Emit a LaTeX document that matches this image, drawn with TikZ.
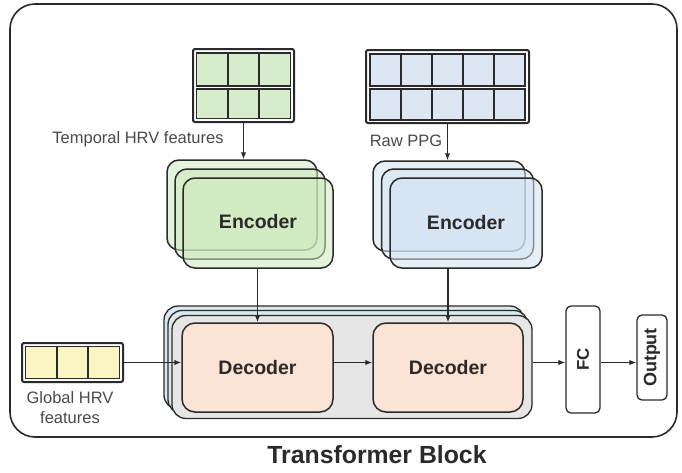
\documentclass[tikz,border=0pt]{standalone}
\usepackage{fontspec}
\setmainfont{Liberation Sans}
\usetikzlibrary{arrows.meta}
\definecolor{inkc}{HTML}{2A2A2A}
\definecolor{labelc}{HTML}{4A4A4A}
\definecolor{gridgreen}{HTML}{D6ECCA}
\definecolor{encgreen}{HTML}{CDE9BD}
\definecolor{gridblue}{HTML}{DCE7F3}
\definecolor{encblue}{HTML}{D3E2F1}
\definecolor{peach}{HTML}{FBE3D5}
\definecolor{paleyellow}{HTML}{FAF5C3}
\definecolor{stackblue}{HTML}{DCE8EE}
\definecolor{stackgray}{HTML}{E6E6E6}
\tikzset{
  frame/.style={draw=inkc, line width=1.6pt, rounded corners=25pt},
  gridframe/.style={draw=inkc, line width=2pt, rounded corners=2pt, fill=white, inner sep=0pt},
  gridrow/.style={draw=inkc, line width=1.3pt},
  encbox/.style={draw=inkc, line width=1.5pt, rounded corners=12pt,
    minimum width=150pt, minimum height=90pt, inner sep=0pt,
    fill opacity=0.55, text opacity=1},
  stackbox/.style={draw=inkc, line width=1.3pt, rounded corners=14pt,
    minimum width=360pt, minimum height=103pt, inner sep=0pt},
  decbox/.style={draw=inkc, line width=1.5pt, rounded corners=13pt, fill=peach,
    minimum height=89pt, inner sep=0pt},
  smallbox/.style={draw=inkc, line width=1.3pt, rounded corners=5pt, fill=white, inner sep=0pt},
  boldlbl/.style={text=inkc, font=\fontsize{19.5}{22}\selectfont\bfseries},
  plainlbl/.style={text=labelc, font=\fontsize{16.5}{20}\selectfont},
  arr/.style={draw=inkc, line width=1.2pt, -{Latex[length=7pt,width=5.5pt]}},
}
\begin{document}
\begin{tikzpicture}[x=1pt,y=-1pt]
\useasboundingbox (0,0) rectangle (682,472);

% outer block frame
\draw[frame] (10,4) rectangle (677,437);

% ---- temporal HRV feature grid (2 x 3)
\node[gridframe, minimum width=101pt, minimum height=73pt] (gridG) at (243.5,85.5) {};
\draw[gridrow, fill=gridgreen] (196.5,53) rectangle (290.5,86);
\draw[gridrow, fill=gridgreen] (196.5,89) rectangle (290.5,118.5);
\foreach \cx in {228,259}{
  \draw[gridrow] (\cx,53) -- (\cx,86);
  \draw[gridrow] (\cx,89) -- (\cx,118.5);
}
\node[plainlbl] (lblG) at (138,139) {Temporal HRV features};

% ---- raw PPG grid (2 x 5)
\node[gridframe, minimum width=163pt, minimum height=73pt] (gridB) at (447.5,86.5) {};
\draw[gridrow, fill=gridblue] (370,54) rectangle (525,86);
\draw[gridrow, fill=gridblue] (370,89) rectangle (525,120);
\foreach \cx in {401,432,463,494}{
  \draw[gridrow] (\cx,54) -- (\cx,86);
  \draw[gridrow] (\cx,89) -- (\cx,120);
}
\node[plainlbl] (lblB) at (406,141) {Raw PPG};

% ---- global HRV feature grid (1 x 3)
\node[gridframe, minimum width=101pt, minimum height=39pt] (gridY) at (72.5,362.5) {};
\draw[gridrow, fill=paleyellow] (25.5,346.5) rectangle (119.5,378.5);
\foreach \cx in {57,88}{
  \draw[gridrow] (\cx,346.5) -- (\cx,378.5);
}
\node[plainlbl, align=center] (lblY) at (70,408) {Global HRV\\features};

% ---- encoder stacks
\node[encbox, fill=encgreen] (encGback) at (242,205) {};
\node[encbox, fill=encgreen] (encGmid) at (250,214) {};
\node[encbox, fill=encgreen, boldlbl] (encG) at (258,223) {\raisebox{4pt}{Encoder}};

\node[encbox, fill=encblue, minimum width=152pt] (encBback) at (449,206) {};
\node[encbox, fill=encblue, minimum width=152pt] (encBmid) at (457.5,214) {};
\node[encbox, fill=encblue, minimum width=152pt, boldlbl] (encB) at (466,223) {Encoder};

% ---- decoder stack
\node[stackbox, fill=stackblue] (grpback) at (344,357.5) {};
\node[stackbox, fill=stackblue] (grpmid) at (348,362) {};
\node[stackbox, fill=stackgray] (grp) at (352,367) {};
\node[decbox, minimum width=151pt, boldlbl] (dec1) at (257.5,367.5) {Decoder};
\node[decbox, minimum width=150pt, boldlbl] (dec2) at (448,367.5) {Decoder};

% ---- head
\node[smallbox, minimum width=34pt, minimum height=107pt] (fc) at (583,359.5)
  {\rotatebox{90}{\textcolor{inkc}{\fontsize{17}{20}\selectfont\bfseries FC}}};
\node[smallbox, minimum width=30pt, minimum height=85pt] (out) at (652,357.5)
  {\rotatebox{90}{\textcolor{inkc}{\fontsize{18}{20}\selectfont\bfseries Output}}};

% ---- connectors
\draw[arr] (gridG.south) -- (gridG.south |- encGback.north);
\draw[arr] (gridB.south) -- (gridB.south |- encBback.north);
\draw[arr] (encG.south -| dec1.north) -- (dec1.north);
\draw[arr] (encB.south -| dec2.north) -- (dec2.north);
\draw[arr] (gridY.east) -- (gridY.east -| dec1.west);
\draw[arr] (dec1.east |- gridY.east) -- (dec2.west |- gridY.east);
\draw[arr] (grp.east |- gridY.east) -- (fc.west |- gridY.east);
\draw[arr] (fc.east |- gridY.east) -- (out.west |- gridY.east);

% title
\node[text=inkc, font=\fontsize{24.8}{28}\selectfont\bfseries] (title) at (377,455) {Transformer Block};
\end{tikzpicture}
\end{document}
